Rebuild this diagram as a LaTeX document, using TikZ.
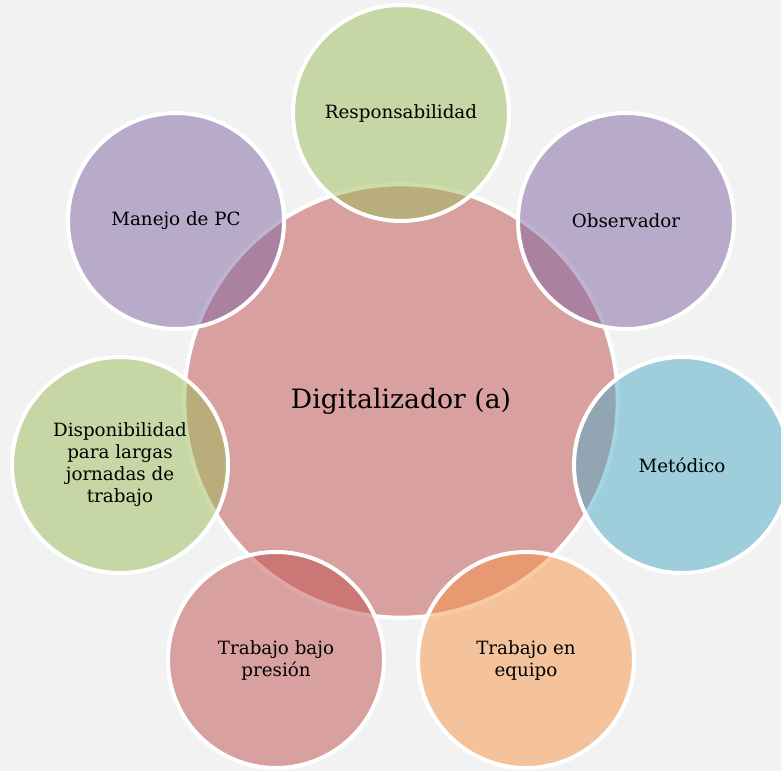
\documentclass[tikz,border=0pt]{standalone}
\usepackage{fontspec}
\setmainfont{DejaVu Serif}
\definecolor{bgc}{HTML}{F2F2F2}
\definecolor{cred}{HTML}{C0504D}
\definecolor{cgreen}{HTML}{9BBB59}
\definecolor{cpurple}{HTML}{8064A2}
\definecolor{cblue}{HTML}{4BACC6}
\definecolor{corange}{HTML}{F79646}
\begin{document}
\begin{tikzpicture}[x=0.75pt,y=-0.75pt,
  bubble/.style={circle, draw=white, line width=3pt, fill opacity=0.5, text opacity=1,
    minimum size=162pt, inner sep=0pt, align=center,
    font=\fontsize{13.7}{16.5}\selectfont},
  hub/.style={bubble, minimum size=325pt, font=\fontsize{20}{24}\selectfont}]
\useasboundingbox (0,0) rectangle (781,771);
\clip (0,0) rectangle (781,771);
\fill[bgc] (0,0) rectangle (781,771);
\node[hub, fill=cred] (dig) at (401,401) {Digitalizador (a)};
\node[bubble, fill=cgreen] (resp) at (401,113) {Responsabilidad};
\node[bubble, fill=cpurple] (obs) at (626,221) {Observador};
\node[bubble, fill=cblue] (met) at (682,465) {Metódico};
\node[bubble, fill=corange] (equipo) at (526,660) {Trabajo en\\equipo};
\node[bubble, fill=cred] (presion) at (276,660) {Trabajo bajo\\presión};
\node[bubble, fill=cgreen] (disp) at (120,465) {Disponibilidad\\para largas\\jornadas de\\trabajo};
\node[bubble, fill=cpurple] (pc) at (176,221) {Manejo de PC};
\end{tikzpicture}
\end{document}
